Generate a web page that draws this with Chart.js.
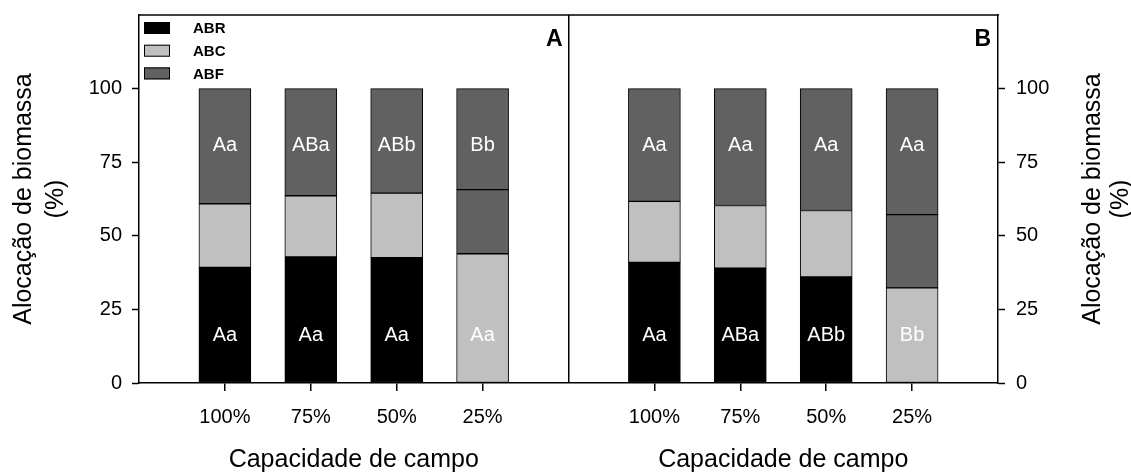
<!DOCTYPE html>
<html>
<head>
<meta charset="utf-8">
<title>Alocação de biomassa</title>
<script src="https://cdn.jsdelivr.net/npm/chart.js@4.4.1/dist/chart.umd.min.js"></script>
<style>
  html, body { margin: 0; padding: 0; background: #ffffff; }
  #wrap { position: relative; width: 1131px; height: 473px; }
  canvas { display: block; }
</style>
</head>
<body>
<div id="wrap"><canvas id="chart" width="1131" height="473"></canvas></div>
<script>
// Field-capacity treatments (same four in each panel)
const categories = ['100%', '75%', '50%', '25%'];
const seriesNames = ['ABR', 'ABC', 'ABF'];

// Panel A: biomass allocation (%) per fraction
const abrA = [39.3, 42.8, 42.6, 43.9];
const abcA = [21.6, 20.8, 21.9, 21.8];
const abfA = [39.1, 36.4, 35.5, 34.3];

// Panel B: biomass allocation (%) per fraction
const abrB = [41.0, 39.0, 36.0, 32.3];
const abcB = [20.7, 21.3, 22.6, 24.9];
const abfB = [38.3, 39.7, 41.4, 42.8];

// Significance letters: upper row sits in the ABF segment, lower row in the base segment
const upperLettersA = ['Aa', 'ABa', 'ABb', 'Bb'];
const lowerLettersA = ['Aa', 'Aa', 'Aa', 'Aa'];
const upperLettersB = ['Aa', 'Aa', 'Aa', 'Aa'];
const lowerLettersB = ['Aa', 'ABa', 'ABb', 'Bb'];

const yTicks = [0, 25, 50, 75, 100];
const panelNames = ['A', 'B'];
const xTitle = 'Capacidade de campo';
const yTitle = ['Alocação de biomassa', '(%)'];

const FONT = '"Liberation Sans", Arial, Helvetica, sans-serif';
const SHADE = { ABR: '#000000', ABC: '#c0c0c0', ABF: '#616161' };

// Both panels share one category axis: blank slot, four bars, blank divider slot, four bars, blank slot
const slotLabels = [''].concat(categories, [''], categories, ['']);
const DIVIDER = 5;
const pad = (a, b) => [null].concat(a, [null], b, [null]);
const seriesData = {
  ABR: pad(abrA, abrB),
  ABC: pad(abcA, abcB),
  ABF: pad(abfA, abfB)
};
const upperLetters = pad(upperLettersA, upperLettersB);
const lowerLetters = pad(lowerLettersA, lowerLettersB);

// In the 25% bars the base segment is drawn light grey and the middle one dark grey
function fillFor(name) {
  return slotLabels.map(lab => {
    if (lab === '25%') {
      if (name === 'ABR') return SHADE.ABC;
      if (name === 'ABC') return SHADE.ABF;
    }
    return SHADE[name];
  });
}

const datasets = seriesNames.map(name => ({
  label: name,
  data: seriesData[name],
  backgroundColor: fillFor(name),
  borderColor: '#000000',
  borderWidth: 1,
  borderSkipped: false,
  barThickness: 52,
  stack: 'all'
}));

const framePlugin = {
  id: 'frame',
  beforeDatasetsDraw(chart) {
    const { ctx, chartArea } = chart;
    ctx.save();
    ctx.strokeStyle = '#000';
    ctx.lineWidth = 1.5;
    ctx.beginPath();
    ctx.moveTo(chartArea.left - 0.75, chartArea.top);
    ctx.lineTo(chartArea.right + 0.75, chartArea.top);
    ctx.stroke();
    ctx.restore();
  },
  afterDraw(chart) {
    const { ctx, chartArea, scales } = chart;
    const x = scales.x, y = scales.y;
    ctx.save();
    // significance letters
    ctx.font = '20px ' + FONT;
    ctx.textAlign = 'center';
    ctx.textBaseline = 'middle';
    ctx.fillStyle = '#ffffff';
    slotLabels.forEach((lab, i) => {
      if (!lab) return;
      const px = x.getPixelForValue(i);
      ctx.fillText(upperLetters[i], px, y.getPixelForValue(80.6));
      ctx.fillText(lowerLetters[i], px, y.getPixelForValue(16.3));
    });

    // legend inside panel A
    ctx.font = 'bold 15px ' + FONT;
    ctx.textAlign = 'left';
    seriesNames.forEach((name, k) => {
      const bx = chartArea.left + 5, by = chartArea.top + 7 + k * 22.7;
      ctx.fillStyle = SHADE[name];
      ctx.fillRect(bx, by, 26, 12);
      ctx.strokeStyle = '#000';
      ctx.lineWidth = 1;
      ctx.strokeRect(bx + 0.5, by + 0.5, 25, 11);
      ctx.fillStyle = '#000';
      ctx.fillText(name, bx + 49, by + 7);
    });

    // panel letters
    ctx.font = 'bold 23px ' + FONT;
    ctx.textAlign = 'right';
    ctx.textBaseline = 'alphabetic';
    ctx.fillText(panelNames[0], x.getPixelForValue(DIVIDER) - 6, chartArea.top + 30.5);
    ctx.fillText(panelNames[1], chartArea.right - 7, chartArea.top + 30.5);

    // axis titles
    ctx.font = '25px ' + FONT;
    ctx.textAlign = 'center';
    const midA = (x.getPixelForValue(1) + x.getPixelForValue(4)) / 2;
    const midB = (x.getPixelForValue(6) + x.getPixelForValue(9)) / 2;
    ctx.fillText(xTitle, midA, 467);
    ctx.fillText(xTitle, midB, 467);

    const midY = (chartArea.top + chartArea.bottom) / 2;
    const drawY = (cx, gap) => {
      ctx.save();
      ctx.translate(cx, midY);
      ctx.rotate(-Math.PI / 2);
      ctx.textBaseline = 'middle';
      ctx.fillText(yTitle[0], 0, -gap / 2);
      ctx.fillText(yTitle[1], 0, gap / 2);
      ctx.restore();
    };
    drawY(40, 32);
    drawY(1107, 28);
    ctx.restore();
  }
};

const yAxis = (position, width, padding) => ({
  type: 'linear',
  position,
  min: 0,
  max: 125,
  afterBuildTicks: s => { s.ticks = yTicks.map(v => ({ value: v })); },
  afterFit: s => { s.width = width; s.paddingTop = 0; s.paddingBottom = 0; },
  ticks: { color: '#000', font: { family: FONT, size: 20 }, padding },
  grid: { drawOnChartArea: false, drawTicks: true, tickLength: 7, tickColor: '#000', tickWidth: 1.5 },
  border: { display: true, color: '#000', width: 1.5 }
});

new Chart(document.getElementById('chart'), {
  type: 'bar',
  data: { labels: slotLabels, datasets },
  options: {
    responsive: false,
    animation: false,
    devicePixelRatio: 1,
    layout: { padding: { top: 15, left: 0, right: 0, bottom: 0 } },
    plugins: { legend: { display: false }, tooltip: { enabled: false } },
    scales: {
      x: {
        type: 'category',
        stacked: true,
        offset: false,
        afterFit: s => { s.height = 90; s.paddingLeft = 0; s.paddingRight = 0; },
        ticks: { color: '#000', font: { family: FONT, size: 20 }, padding: 14, autoSkip: false, maxRotation: 0 },
        grid: {
          offset: false,
          drawOnChartArea: true,
          color: c => (c.index === DIVIDER ? '#000' : 'rgba(0,0,0,0)'),
          lineWidth: 1.5,
          tickLength: 8,
          tickColor: c => (slotLabels[c.index] ? '#000' : 'rgba(0,0,0,0)'),
          tickWidth: 1.5
        },
        border: { display: true, color: '#000', width: 1.5 }
      },
      y: Object.assign(yAxis('left', 139, 10), { stacked: true }),
      y2: yAxis('right', 133, 11)
    }
  },
  plugins: [framePlugin]
});
</script>
</body>
</html>
